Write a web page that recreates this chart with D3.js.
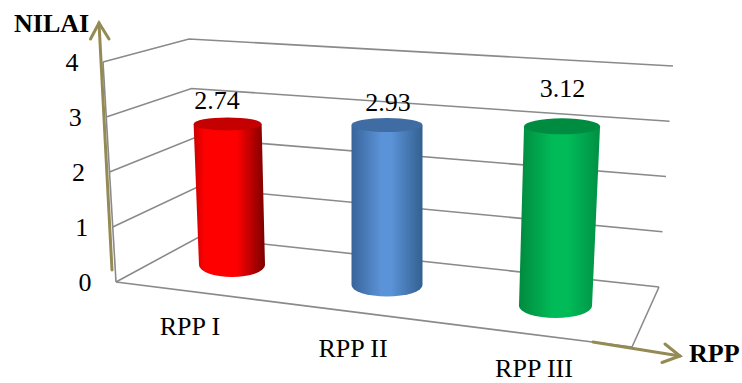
<!DOCTYPE html>
<html>
<head>
<meta charset="utf-8">
<script src="https://cdn.jsdelivr.net/npm/d3@7/dist/d3.min.js"></script>
<style>
html, body { margin: 0; padding: 0; background: #fff; }
svg { display: block; }
text { font-family: "Liberation Serif", "Times New Roman", serif; fill: #000; }
</style>
</head>
<body>
<script>
// Chart content
const categories = ["RPP I", "RPP II", "RPP III"];
const values = [2.74, 2.93, 3.12];
const valueLabels = ["2.74", "2.93", "3.12"];
const yTicks = [0, 1, 2, 3, 4];
const yTitle = "NILAI";
const xTitle = "RPP";

// Cylinder colours: edge shades, body highlight, top cap
const edgeLeft = ["#cc0000", "#38649a", "#008a3e"];
const bodyLight = ["#ff0000", "#5b93d8", "#00bb58"];
const edgeRight = ["#7c0000", "#33608f", "#009044"];
const capFill = ["#c40000", "#3f6ca3", "#008c40"];
// Where the highlight band starts and ends across each cylinder
const lightFrom = [0.16, 0.42, 0.42];
const lightTo = [0.6, 0.56, 0.6];

const W = 742, H = 383;
const svg = d3.select("body").append("svg").attr("width", W).attr("height", H);
const defs = svg.append("defs");

// The 3D box: each corner moves linearly with the value
const frontX = d3.scaleLinear().domain([0, 4]).range([116, 103]);
const frontY = d3.scaleLinear().domain([0, 4]).range([282, 62]);
const backX = d3.scaleLinear().domain([0, 4]).range([199, 189]);
const backY = d3.scaleLinear().domain([0, 4]).range([237, 39]);
const rightX = d3.scaleLinear().domain([0, 4]).range([659, 673]);
const rightY = d3.scaleLinear().domain([0, 4]).range([287, 66]);

// Per-category projection of the floor position and value height
const idx = categories.map((_, i) => i);
const baseX = d3.scaleOrdinal(idx, [232, 387, 555.5]);
const baseY = d3.scaleOrdinal(idx, [265, 285, 306]);
const unitH = d3.scaleOrdinal(idx, [51.5, 54.6, 57.6]);
const lean = d3.scaleOrdinal(idx, [-1.6, 0, 2.1]);
const baseRx = d3.scaleOrdinal(idx, [33, 35.5, 36.5]);
const topRx = d3.scaleOrdinal(idx, [34, 35.5, 38]);
const baseRy = d3.scaleOrdinal(idx, [12, 11.5, 12]);
const topRy = d3.scaleOrdinal(idx, [6.5, 7, 8]);
const catLabelX = d3.scaleOrdinal(idx, [190, 353, 534]);
const catLabelY = d3.scaleOrdinal(idx, [334.5, 357, 377.3]);
const valLabelX = d3.scaleOrdinal(idx, [217, 388, 562.5]);
const valLabelY = d3.scaleOrdinal(idx, [108.5, 111, 97]);

const grid = svg.append("g").attr("fill", "none").attr("stroke", "#8a8a8a").attr("stroke-width", 1.6);

// Gridlines on the side and back walls
grid.selectAll("path.wall").data(yTicks).join("path").attr("class", "wall")
  .attr("d", v => d3.line()([
    [frontX(v), frontY(v)], [backX(v), backY(v)], [rightX(v), rightY(v)]
  ]));

// Vertical front edge and the floor outline
grid.append("path").attr("d", d3.line()([[frontX(4), frontY(4)], [frontX(0), frontY(0)]]));
grid.append("path").attr("d", d3.line()([
  [frontX(0), frontY(0)], [632, 347], [rightX(0), rightY(0)]
]));

// Cylinders
const bars = svg.append("g").selectAll("g").data(idx).join("g");

bars.each(function (i) {
  const g = d3.select(this);
  const v = values[i];
  const bx = baseX(i), by = baseY(i);
  const tx = bx + lean(i) * v, ty = by - unitH(i) * v;
  const brx = baseRx(i), trx = topRx(i), bry = baseRy(i), tryy = topRy(i);

  const grad = defs.append("linearGradient").attr("id", "cyl" + i);
  [[0, edgeLeft[i]], [lightFrom[i], bodyLight[i]], [lightTo[i], bodyLight[i]], [1, edgeRight[i]]].forEach(([o, c]) => {
    grad.append("stop").attr("offset", o).attr("stop-color", c);
  });

  g.append("path")
    .attr("fill", `url(#cyl${i})`)
    .attr("d", `M${tx - trx},${ty} L${bx - brx},${by} A${brx},${bry} 0 0 0 ${bx + brx},${by} L${tx + trx},${ty} Z`);
  g.append("ellipse")
    .attr("cx", tx).attr("cy", ty).attr("rx", trx).attr("ry", tryy)
    .attr("fill", capFill[i]);
});

const fontSize = 26;

// Value labels above the cylinders
svg.append("g").selectAll("text").data(idx).join("text")
  .attr("x", i => valLabelX(i)).attr("y", i => valLabelY(i))
  .attr("text-anchor", "middle").attr("font-size", fontSize)
  .text(i => valueLabels[i]);

// Category labels along the floor edge
svg.append("g").selectAll("text").data(idx).join("text")
  .attr("x", i => catLabelX(i)).attr("y", i => catLabelY(i))
  .attr("text-anchor", "middle").attr("font-size", fontSize)
  .text(i => categories[i]);

// Value axis tick labels follow the slanted front edge
svg.append("g").selectAll("text").data(yTicks).join("text")
  .attr("x", v => frontX(v) - 24.5).attr("y", v => frontY(v) + 9)
  .attr("text-anchor", "end").attr("font-size", fontSize)
  .text(v => v);

// Axis arrows
const arrows = svg.append("g").attr("fill", "none").attr("stroke", "#948a54")
  .attr("stroke-width", 3).attr("stroke-linecap", "round").attr("stroke-linejoin", "miter");
arrows.append("path").attr("d", d3.line()([[112, 270], [99, 23]]));
arrows.append("path").attr("d", d3.line()([[90.5, 39], [99, 23], [109, 39]]));
arrows.append("path").attr("d", d3.line()([[593, 342], [680, 356]]));
arrows.append("path").attr("d", d3.line()([[665, 344], [680, 356], [662, 362.5]]));

// Axis titles
svg.append("text").attr("x", 14).attr("y", 32)
  .attr("font-size", fontSize).attr("font-weight", "bold").text(yTitle);
svg.append("text").attr("x", 689).attr("y", 362)
  .attr("font-size", fontSize).attr("font-weight", "bold").text(xTitle);
</script>
</body>
</html>
